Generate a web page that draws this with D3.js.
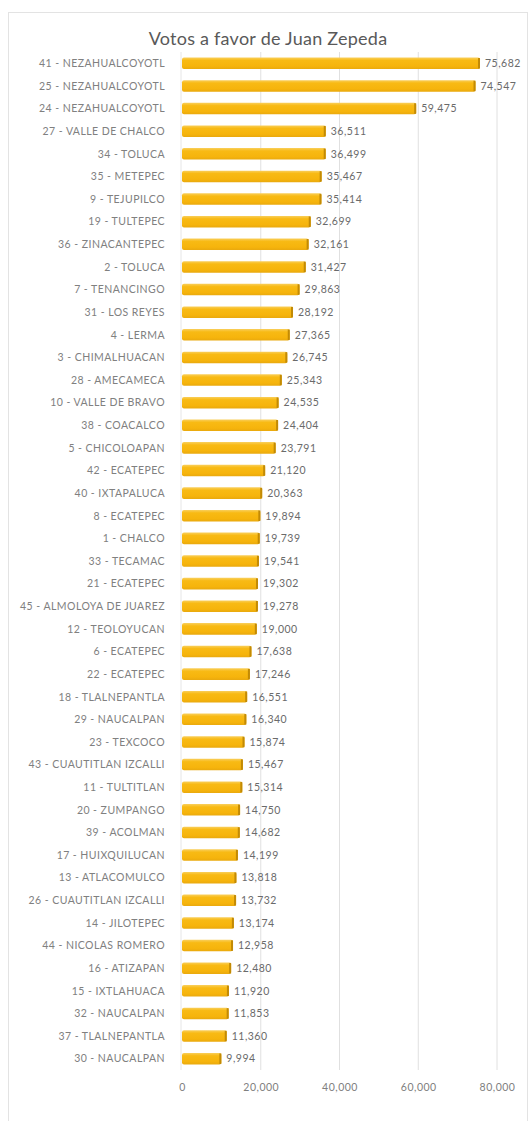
<!DOCTYPE html>
<html>
<head>
<meta charset="utf-8">
<script src="https://cdn.jsdelivr.net/npm/d3@7"></script>
<style>
  html, body { margin: 0; padding: 0; background: #ffffff; }
  svg { display: block; }
</style>
</head>
<body>
<svg id="chart" width="532" height="1121"></svg>
<script>
// Votes per district, sorted from highest to lowest
const districts = [
  "41 - NEZAHUALCOYOTL", "25 - NEZAHUALCOYOTL", "24 - NEZAHUALCOYOTL",
  "27 - VALLE DE CHALCO", "34 - TOLUCA", "35 - METEPEC", "9 - TEJUPILCO",
  "19 - TULTEPEC", "36 - ZINACANTEPEC", "2 - TOLUCA", "7 - TENANCINGO",
  "31 - LOS REYES", "4 - LERMA", "3 - CHIMALHUACAN", "28 - AMECAMECA",
  "10 - VALLE DE BRAVO", "38 - COACALCO", "5 - CHICOLOAPAN", "42 - ECATEPEC",
  "40 - IXTAPALUCA", "8 - ECATEPEC", "1 - CHALCO", "33 - TECAMAC",
  "21 - ECATEPEC", "45 - ALMOLOYA DE JUAREZ", "12 - TEOLOYUCAN",
  "6 - ECATEPEC", "22 - ECATEPEC", "18 - TLALNEPANTLA", "29 - NAUCALPAN",
  "23 - TEXCOCO", "43 - CUAUTITLAN IZCALLI", "11 - TULTITLAN",
  "20 - ZUMPANGO", "39 - ACOLMAN", "17 - HUIXQUILUCAN", "13 - ATLACOMULCO",
  "26 - CUAUTITLAN IZCALLI", "14 - JILOTEPEC", "44 - NICOLAS ROMERO",
  "16 - ATIZAPAN", "15 - IXTLAHUACA", "32 - NAUCALPAN", "37 - TLALNEPANTLA",
  "30 - NAUCALPAN"
];

const votes = [
  75682, 74547, 59475, 36511, 36499, 35467, 35414, 32699, 32161, 31427,
  29863, 28192, 27365, 26745, 25343, 24535, 24404, 23791, 21120, 20363,
  19894, 19739, 19541, 19302, 19278, 19000, 17638, 17246, 16551, 16340,
  15874, 15467, 15314, 14750, 14682, 14199, 13818, 13732, 13174, 12958,
  12480, 11920, 11853, 11360, 9994
];

const xTicks = [0, 20000, 40000, 60000, 80000];
const chartTitle = "Votos a favor de Juan Zepeda";

const data = districts.map((name, i) => ({ name, value: votes[i] }));

const svg = d3.select("#chart");
const font = "Lato, 'Open Sans', 'DejaVu Sans', sans-serif";

// Chart frame
svg.append("rect")
  .attr("x", 8.5).attr("y", 12.5)
  .attr("width", 519).attr("height", 1115)
  .attr("fill", "#ffffff")
  .attr("stroke", "#e3e3e3");

const plot = { left: 182, right: 497, top: 52, bottom: 1070 };

const x = d3.scaleLinear().domain([0, 80000]).range([plot.left, plot.right]);
const y = d3.scaleBand()
  .domain(districts)
  .range([plot.top, plot.bottom])
  .paddingInner(0.49)
  .paddingOuter(0.245);

// Bar gradient
const defs = svg.append("defs");
const grad = defs.append("linearGradient")
  .attr("id", "barFill").attr("x1", 0).attr("y1", 0).attr("x2", 0).attr("y2", 1);
grad.append("stop").attr("offset", "0%").attr("stop-color", "#f9cf5c");
grad.append("stop").attr("offset", "25%").attr("stop-color", "#f8ba14");
grad.append("stop").attr("offset", "75%").attr("stop-color", "#f6b40c");
grad.append("stop").attr("offset", "100%").attr("stop-color", "#e9a90e");

// Vertical gridlines
svg.append("g")
  .selectAll("line")
  .data(xTicks.slice(1))
  .join("line")
  .attr("x1", d => x(d)).attr("x2", d => x(d))
  .attr("y1", plot.top).attr("y2", plot.bottom)
  .attr("stroke", "#e0e0e0")
  .attr("stroke-width", 1);

// Category axis line
svg.append("line")
  .attr("x1", plot.left - 1).attr("x2", plot.left - 1)
  .attr("y1", plot.top).attr("y2", plot.bottom)
  .attr("stroke", "#e6e6e6");

// Bars
const bars = svg.append("g");
bars.selectAll("rect.bar")
  .data(data)
  .join("rect")
  .attr("class", "bar")
  .attr("x", x(0))
  .attr("y", d => y(d.name))
  .attr("width", d => x(d.value) - x(0))
  .attr("height", y.bandwidth())
  .attr("rx", 2)
  .attr("fill", "url(#barFill)");

// Darker right edge of each bar
bars.selectAll("rect.cap")
  .data(data)
  .join("rect")
  .attr("class", "cap")
  .attr("x", d => x(d.value) - 2)
  .attr("y", d => y(d.name) + 0.5)
  .attr("width", 2)
  .attr("height", y.bandwidth() - 1)
  .attr("fill", "#c28a05");

// Category labels
svg.append("g")
  .selectAll("text")
  .data(data)
  .join("text")
  .attr("x", 165)
  .attr("y", d => y(d.name) + y.bandwidth() / 2)
  .attr("dy", "0.36em")
  .attr("text-anchor", "end")
  .attr("font-family", font)
  .attr("font-size", 10.5)
  .attr("letter-spacing", 0.45)
  .attr("fill", "#808080")
  .text(d => d.name);

// Value labels
const fmt = d3.format(",");
svg.append("g")
  .selectAll("text")
  .data(data)
  .join("text")
  .attr("x", d => x(d.value) + 5)
  .attr("y", d => y(d.name) + y.bandwidth() / 2)
  .attr("dy", "0.36em")
  .attr("font-family", font)
  .attr("font-size", 10.5)
  .attr("letter-spacing", 0.5)
  .attr("fill", "#6a6a6a")
  .text(d => fmt(d.value));

// Value axis
const xAxis = d3.axisBottom(x).tickValues(xTicks).tickFormat(fmt).tickSize(0).tickPadding(0);
const gx = svg.append("g")
  .attr("transform", `translate(0, 1084)`)
  .call(xAxis);
gx.select(".domain").remove();
gx.selectAll("text")
  .attr("font-family", font)
  .attr("font-size", 10.5)
  .attr("letter-spacing", 0.5)
  .attr("fill", "#808080");

// Title
svg.append("text")
  .attr("x", 268)
  .attr("y", 45)
  .attr("text-anchor", "middle")
  .attr("font-family", font)
  .attr("font-size", 18)
  .attr("letter-spacing", 0.25)
  .attr("fill", "#595959")
  .text(chartTitle);
</script>
</body>
</html>
